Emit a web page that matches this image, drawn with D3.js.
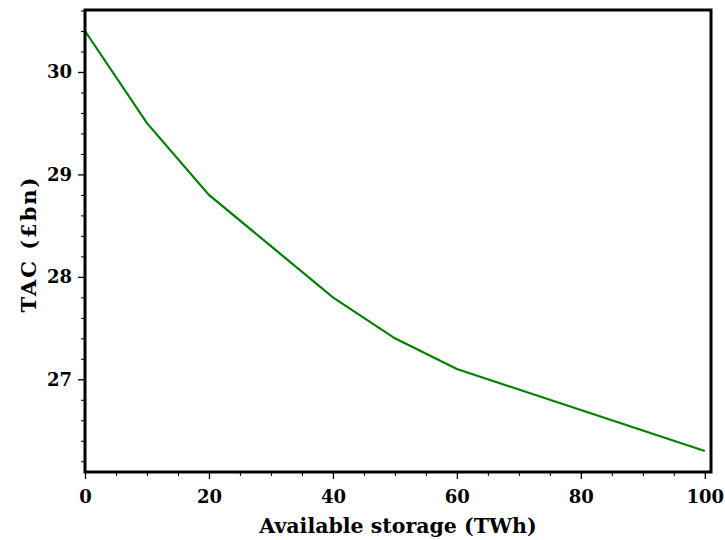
<!DOCTYPE html>
<html>
<head>
<meta charset="utf-8">
<script src="https://cdn.jsdelivr.net/npm/d3@7"></script>
<style>
  body { margin: 0; background: #fff; }
  text { font-family: "DejaVu Serif", serif; font-weight: bold; }
</style>
</head>
<body>
<div id="container"></div>
<script>
// available storage (TWh) and total annual cost (£bn)
const storage = [0, 10, 20, 30, 40, 50, 60, 70, 80, 90, 100];
const tac = [30.4, 29.5, 28.8, 28.3, 27.8, 27.4, 27.1, 26.9, 26.7, 26.5, 26.3];
const xTicks = [0, 20, 40, 60, 80, 100];
const yTicks = [27, 28, 29, 30];

const width = 725;
const height = 540;
const margin = { top: 10, right: 14, bottom: 68, left: 85 };

const svg = d3.select('#container')
    .append('svg')
    .attr('width', width)
    .attr('height', height);

const x = d3.scaleLinear()
    .domain([0, 101])
    .range([margin.left, width - margin.right]);

const y = d3.scaleLinear()
    .domain([26.095, 30.605])
    .range([height - margin.bottom, margin.top]);

const data = storage.map((d, i) => ({ x: d, y: tac[i] }));

// minor ticks
svg.append('g')
    .attr('transform', `translate(0,${height - margin.bottom})`)
    .call(d3.axisBottom(x).tickValues(d3.range(0, 101, 5).filter(v => v % 20)).tickSize(4).tickFormat(''))
    .call(g => g.select('.domain').remove())
    .call(g => g.selectAll('line').attr('stroke-width', 1));

svg.append('g')
    .attr('transform', `translate(${margin.left},0)`)
    .call(d3.axisLeft(y).tickValues(d3.range(26.2, 30.61, 0.2).filter(v => Math.abs(v - Math.round(v)) > 0.01)).tickSize(4).tickFormat(''))
    .call(g => g.select('.domain').remove())
    .call(g => g.selectAll('line').attr('stroke-width', 1));

// major ticks
svg.append('g')
    .attr('transform', `translate(0,${height - margin.bottom})`)
    .call(d3.axisBottom(x).tickValues(xTicks).tickSize(7).tickPadding(11).tickFormat(d3.format('d')))
    .call(g => g.select('.domain').remove())
    .call(g => g.selectAll('line').attr('stroke-width', 1.3))
    .call(g => g.selectAll('text').attr('font-size', 18).attr('fill', '#000')
        .style('font-family', '"DejaVu Serif", serif').style('font-weight', 'bold'));

svg.append('g')
    .attr('transform', `translate(${margin.left},0)`)
    .call(d3.axisLeft(y).tickValues(yTicks).tickSize(7).tickPadding(6).tickFormat(d3.format('d')))
    .call(g => g.select('.domain').remove())
    .call(g => g.selectAll('line').attr('stroke-width', 1.3))
    .call(g => g.selectAll('text').attr('font-size', 18).attr('fill', '#000')
        .style('font-family', '"DejaVu Serif", serif').style('font-weight', 'bold'));

// line
svg.append('path')
    .datum(data)
    .attr('fill', 'none')
    .attr('stroke', '#008000')
    .attr('stroke-width', 2.2)
    .attr('d', d3.line().x(d => x(d.x)).y(d => y(d.y)));

// frame
svg.append('rect')
    .attr('x', margin.left)
    .attr('y', margin.top)
    .attr('width', width - margin.left - margin.right)
    .attr('height', height - margin.top - margin.bottom)
    .attr('fill', 'none')
    .attr('stroke', '#000')
    .attr('stroke-width', 3);

// axis labels
svg.append('text')
    .attr('x', (margin.left + width - margin.right) / 2)
    .attr('y', 533)
    .attr('text-anchor', 'middle')
    .attr('font-size', 20.5)
    .text('Available storage (TWh)');

svg.append('text')
    .attr('transform', `translate(35.5,245) rotate(-90)`)
    .attr('text-anchor', 'middle')
    .attr('font-size', 21)
    .attr('textLength', 135)
    .attr('lengthAdjust', 'spacing')
    .text('TAC (£bn)');
</script>
</body>
</html>
